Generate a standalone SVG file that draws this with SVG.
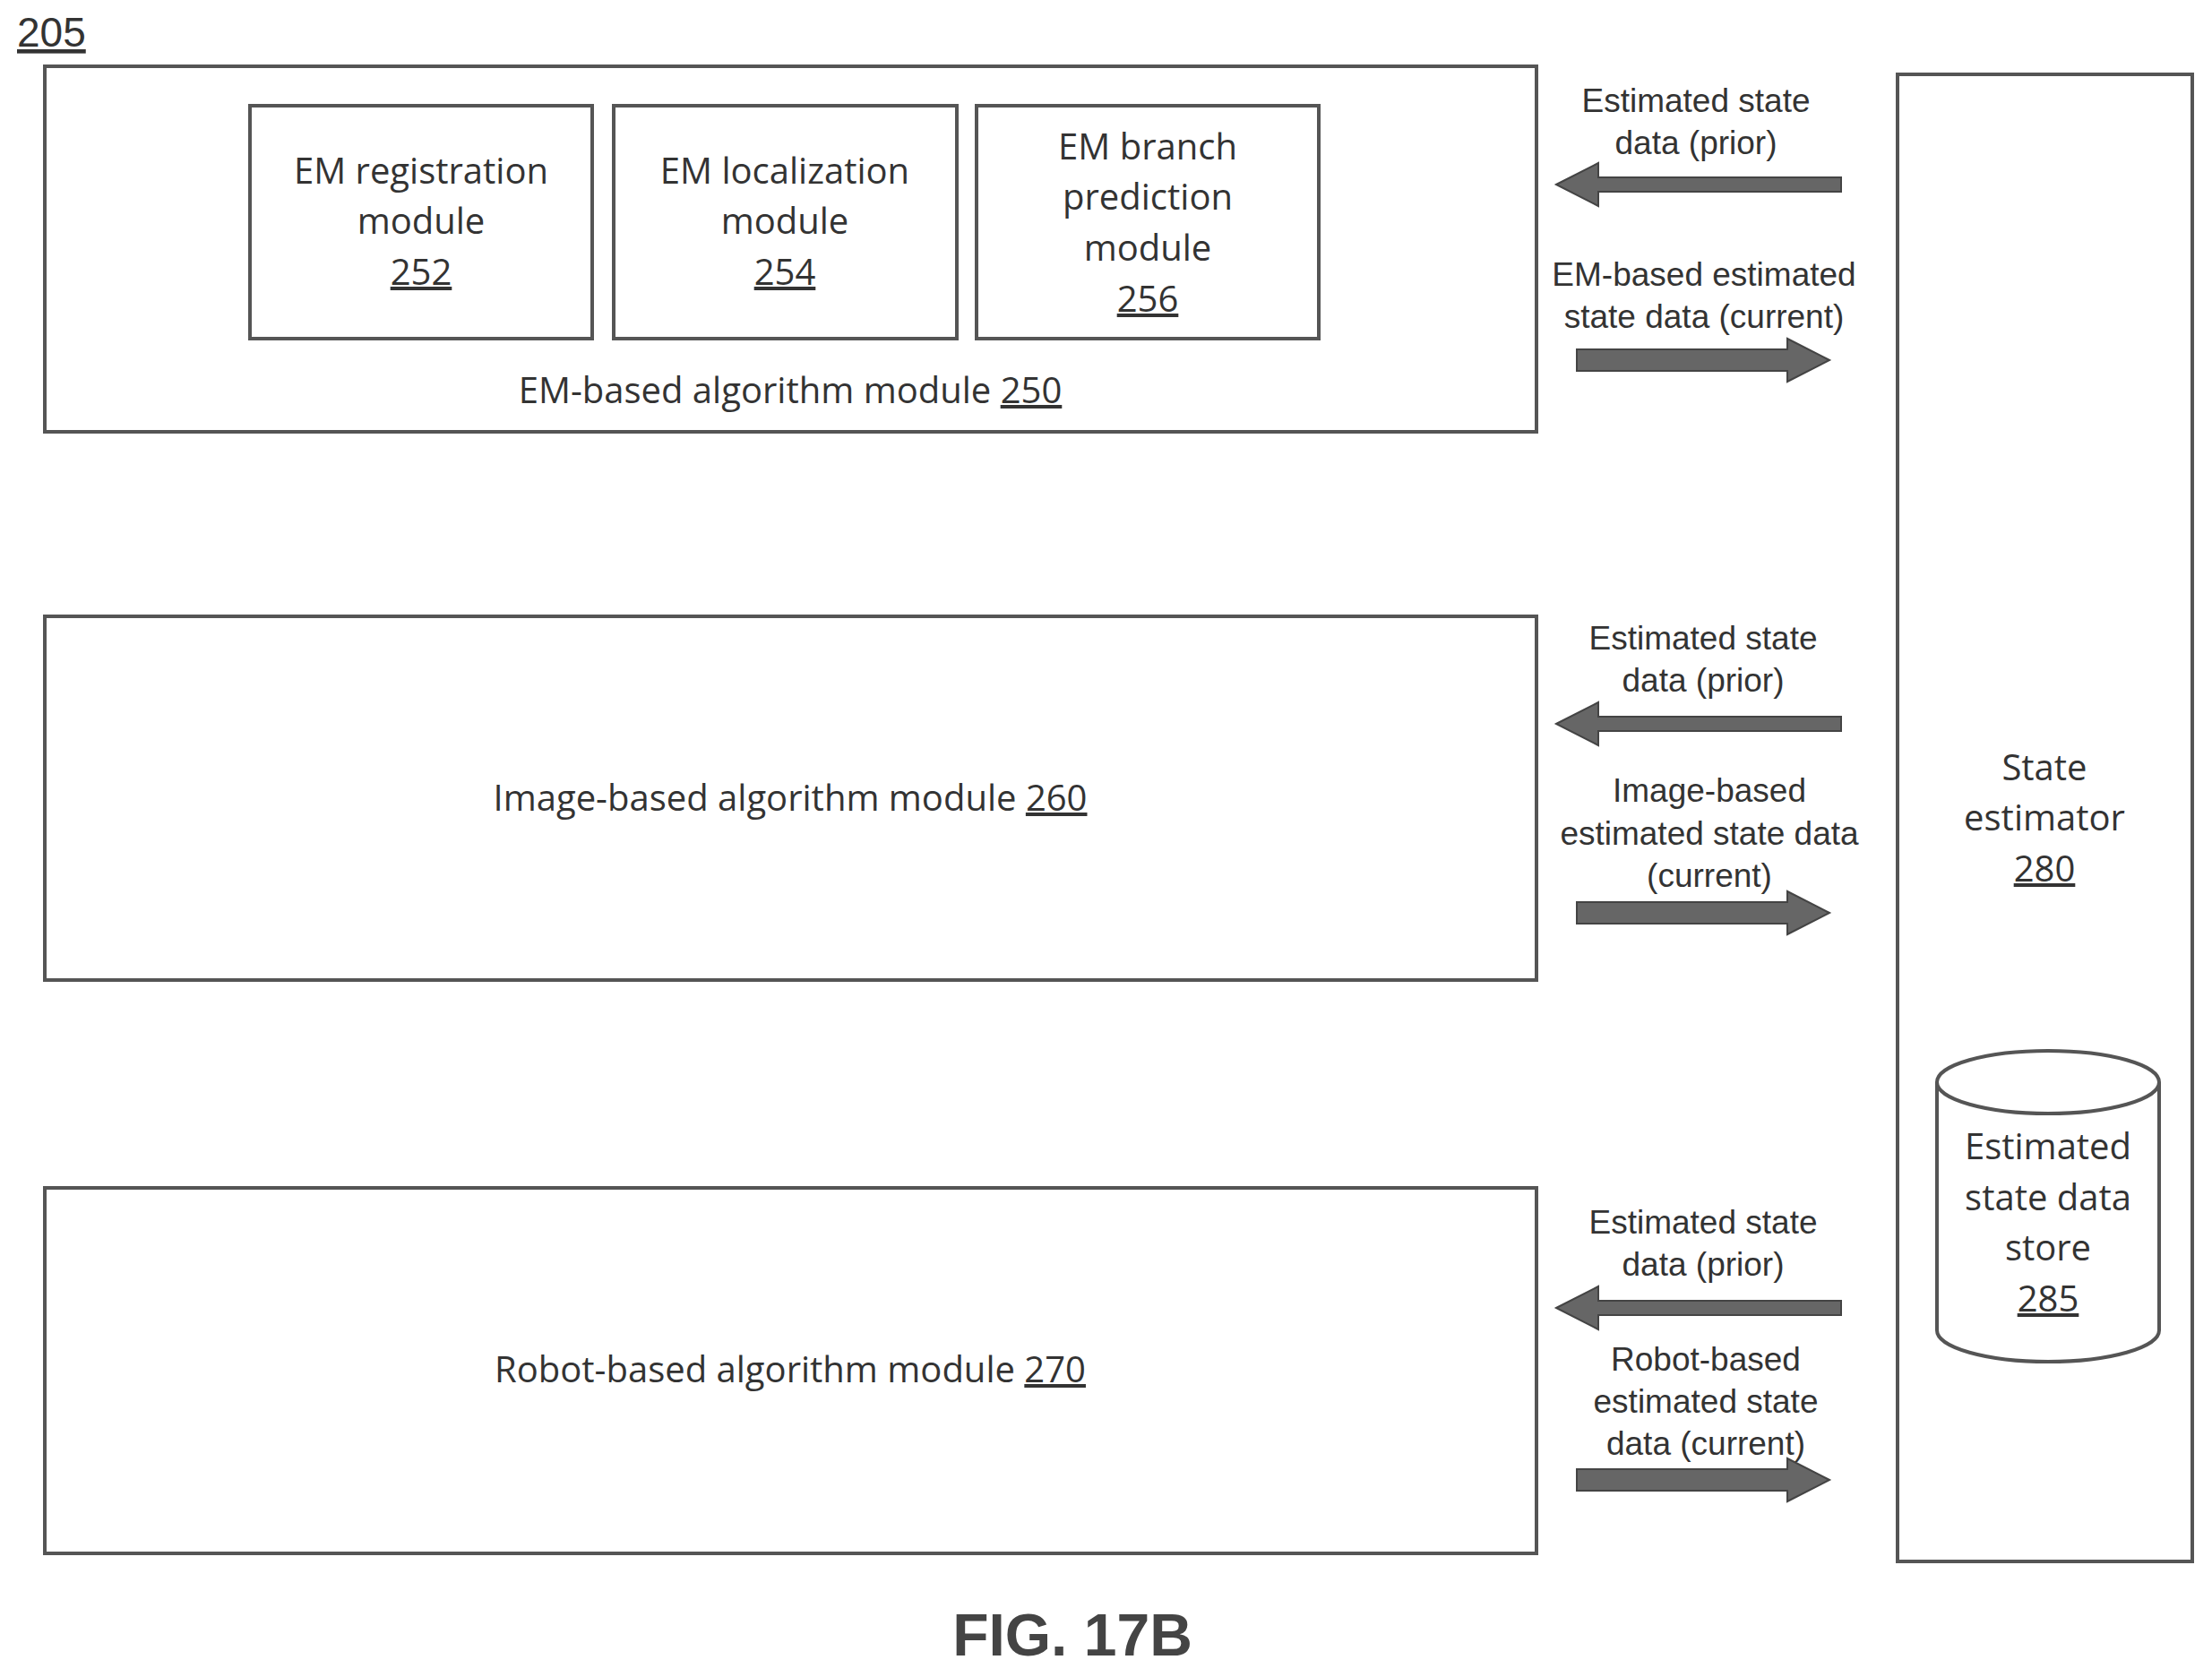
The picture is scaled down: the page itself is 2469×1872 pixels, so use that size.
<svg xmlns="http://www.w3.org/2000/svg" width="2469" height="1872" viewBox="0 0 2469 1872">
<style>
.box{fill:#fff;stroke:#555;stroke-width:4}
.t{font-family:"Open Sans","Liberation Sans",sans-serif;font-size:40px;fill:#333;text-anchor:middle}
.a{font-family:"Liberation Sans",Arial,sans-serif;font-size:37px;fill:#333;text-anchor:middle}
.arr{fill:#666;stroke:#444;stroke-width:2}
</style>
<rect width="2469" height="1872" fill="#fff"/>
<text x="19" y="52" font-family="Liberation Sans,sans-serif" font-size="46" fill="#333" text-decoration="underline">205</text>
<g id="em250">
<rect class="box" x="50" y="74" width="1665" height="408"/>
<text class="t" x="882" y="450">EM-based algorithm module <tspan text-decoration="underline">250</tspan></text>
</g>
<g id="em252"><rect class="box" x="279" y="118" width="382" height="260"/>
<text class="t" x="470" y="205">EM registration</text><text class="t" x="470" y="261">module</text><text class="t" x="470" y="318" text-decoration="underline">252</text></g>
<g id="em254"><rect class="box" x="685" y="118" width="383" height="260"/>
<text class="t" x="876" y="205">EM localization</text><text class="t" x="876" y="261">module</text><text class="t" x="876" y="318" text-decoration="underline">254</text></g>
<g id="em256"><rect class="box" x="1090" y="118" width="382" height="260"/>
<text class="t" x="1281" y="178">EM branch</text><text class="t" x="1281" y="234">prediction</text><text class="t" x="1281" y="291">module</text><text class="t" x="1281" y="348" text-decoration="underline">256</text></g>
<g id="img260"><rect class="box" x="50" y="688" width="1665" height="406"/>
<text class="t" x="882" y="905">Image-based algorithm module <tspan text-decoration="underline">260</tspan></text></g>
<g id="robot270"><rect class="box" x="50" y="1326" width="1665" height="408"/>
<text class="t" x="882" y="1543">Robot-based algorithm module <tspan text-decoration="underline">270</tspan></text></g>
<g id="state280"><rect class="box" x="2118" y="83" width="329" height="1660"/>
<text class="t" x="2282" y="871">State</text><text class="t" x="2282" y="927">estimator</text><text class="t" x="2282" y="984" text-decoration="underline">280</text></g>
<g id="store285">
<path d="M2162 1208 V1485 A124 35 0 0 0 2410 1485 V1208" fill="#fff" stroke="#555" stroke-width="4"/>
<ellipse cx="2286" cy="1208" rx="124" ry="35" fill="#fff" stroke="#555" stroke-width="4"/>
<text class="t" x="2286" y="1294">Estimated</text><text class="t" x="2286" y="1351">state data</text><text class="t" x="2286" y="1407">store</text><text class="t" x="2286" y="1464" text-decoration="underline">285</text>
</g>
<g id="connectors">
<polygon class="arr" points="1737,206 1784,182 1784,198 2055,198 2055,214 1784,214 1784,230"/>
<polygon class="arr" points="2042,402 1995,378 1995,390 1760,390 1760,414 1995,414 1995,426"/>
<polygon class="arr" points="1737,808 1784,784 1784,800 2055,800 2055,816 1784,816 1784,832"/>
<polygon class="arr" points="2042,1019 1995,995 1995,1007 1760,1007 1760,1031 1995,1031 1995,1043"/>
<polygon class="arr" points="1737,1460 1784,1436 1784,1452 2055,1452 2055,1468 1784,1468 1784,1484"/>
<polygon class="arr" points="2042,1652 1995,1628 1995,1640 1760,1640 1760,1664 1995,1664 1995,1676"/>
<text class="a" x="1893" y="125">Estimated state</text><text class="a" x="1893" y="172">data (prior)</text>
<text class="a" x="1902" y="319">EM-based estimated</text><text class="a" x="1902" y="366">state data (current)</text>
<text class="a" x="1901" y="725">Estimated state</text><text class="a" x="1901" y="772">data (prior)</text>
<text class="a" x="1908" y="895">Image-based</text><text class="a" x="1908" y="943">estimated state data</text><text class="a" x="1908" y="990">(current)</text>
<text class="a" x="1901" y="1377">Estimated state</text><text class="a" x="1901" y="1424">data (prior)</text>
<text class="a" x="1904" y="1530">Robot-based</text><text class="a" x="1904" y="1577">estimated state</text><text class="a" x="1904" y="1624">data (current)</text>
</g>
<text x="1197" y="1848" font-family="Liberation Sans,sans-serif" font-weight="bold" font-size="66" fill="#444" text-anchor="middle">FIG. 17B</text>
</svg>
